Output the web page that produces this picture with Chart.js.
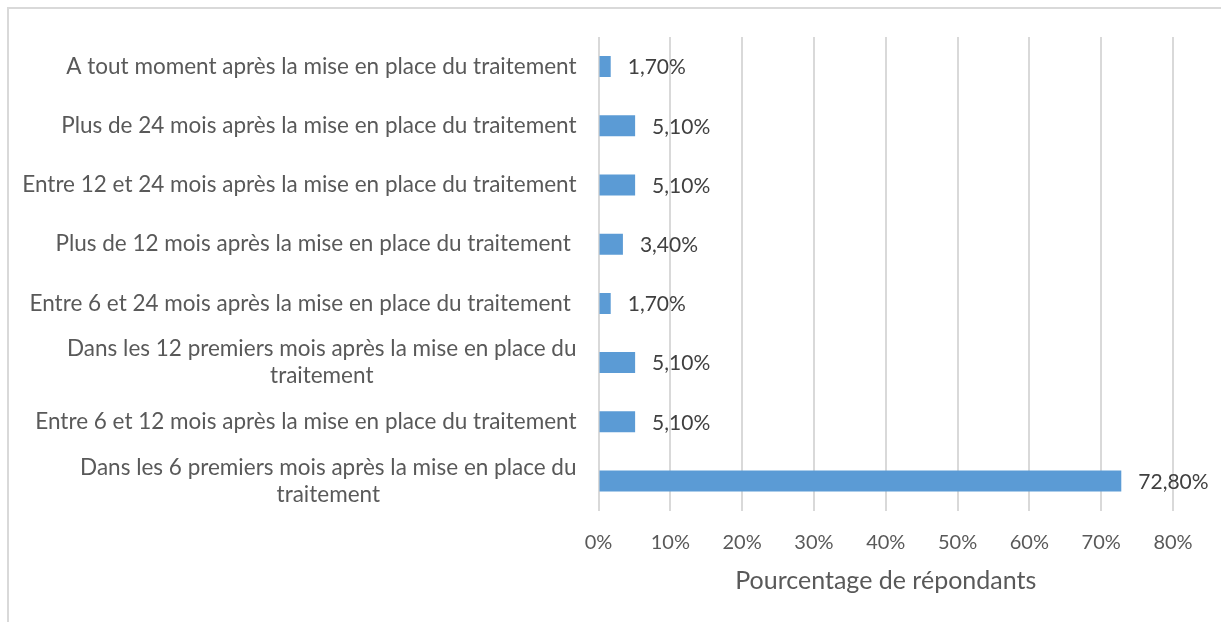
<!DOCTYPE html>
<html>
<head>
<meta charset="utf-8">
<script src="https://cdn.jsdelivr.net/npm/chart.js@4"></script>
<style>
  body { margin: 0; background: #fff; }
  #wrap { position: relative; width: 1221px; height: 622px; }
  #frame { position: absolute; left: 7px; top: 7px; right: 0; bottom: 0; border-top: 2px solid #d9d9d9; border-left: 2px solid #d9d9d9; pointer-events: none; }
</style>
</head>
<body>
<div id="wrap">
  <canvas id="c" width="1221" height="622"></canvas>
  <div id="frame"></div>
</div>
<script>
// categories, top to bottom
var labels = [
    "A tout moment après la mise en place du traitement",
    "Plus de 24 mois après la mise en place du traitement",
    "Entre 12 et 24 mois après la mise en place du traitement",
    "Plus de 12 mois après la mise en place du traitement ",
    "Entre 6 et 24 mois après la mise en place du traitement ",
    ["Dans les 12 premiers mois après la mise en place du", "traitement"],
    "Entre 6 et 12 mois après la mise en place du traitement",
    ["Dans les 6 premiers mois après la mise en place du", "traitement"]
];
var values = [1.7, 5.1, 5.1, 3.4, 1.7, 5.1, 5.1, 72.8];
var xTicks = [0, 10, 20, 30, 40, 50, 60, 70, 80];
var axisTitle = "Pourcentage de répondants";

var FONT = "Lato";

function pct(v) { return v.toFixed(2).replace(".", ",") + "%"; }

// libellés des catégories : bloc aligné à droite, lignes centrées
var catLabels = {
    id: "catLabels",
    afterDraw: function (chart) {
        var ctx = chart.ctx, y = chart.scales.y, right = chart.chartArea.left - 22, lh = 27;
        ctx.save();
        ctx.font = "22.5px " + FONT;
        ctx.fillStyle = "#595959";
        ctx.textAlign = "center";
        ctx.textBaseline = "middle";
        labels.forEach(function (l, i) {
            var lines = Array.isArray(l) ? l : [l];
            var w = Math.max.apply(null, lines.map(function (s) { return ctx.measureText(s).width; }));
            var cy = y.getPixelForValue(i) - (lines.length - 1) * lh / 2;
            lines.forEach(function (s, k) { ctx.fillText(s, right - w / 2, cy + k * lh); });
        });
        ctx.restore();
    }
};

// étiquettes de valeur à droite des barres
var valLabels = {
    id: "valLabels",
    afterDatasetsDraw: function (chart) {
        var ctx = chart.ctx, meta = chart.getDatasetMeta(0);
        ctx.save();
        ctx.font = "21px " + FONT;
        ctx.fillStyle = "#404040";
        ctx.textAlign = "left";
        ctx.textBaseline = "middle";
        meta.data.forEach(function (bar, i) {
            ctx.fillText(pct(values[i]), bar.x + 17, bar.y + 1);
        });
        ctx.restore();
    }
};

new Chart(document.getElementById("c"), {
    type: "bar",
    data: {
        labels: labels,
        datasets: [{ data: values, backgroundColor: "#5b9bd5", categoryPercentage: 1, barPercentage: 0.355 }]
    },
    options: {
        indexAxis: "y",
        responsive: false,
        animation: false,
        layout: { padding: { top: 37, right: 48, bottom: 0, left: 0 } },
        plugins: { legend: { display: false }, tooltip: { enabled: false } },
        scales: {
            x: {
                min: 0, max: 80,
                afterBuildTicks: function (s) { s.ticks = xTicks.map(function (v) { return { value: v }; }); },
                afterFit: function (s) { s.height = 111.4; },
                grid: { color: "#d9d9d9", lineWidth: 2, drawTicks: false },
                border: { display: false },
                ticks: { color: "#595959", font: { family: FONT, size: 20 }, padding: 20, callback: function (v) { return v + "%"; } },
                title: { display: true, text: axisTitle, color: "#595959", font: { family: FONT, size: 25 }, padding: { top: 26, bottom: 26 } }
            },
            y: {
                afterFit: function (s) { s.width = 598.5; },
                grid: { display: false },
                border: { display: false },
                ticks: { display: false }
            }
        }
    },
    plugins: [catLabels, valLabels]
});
</script>
</body>
</html>
